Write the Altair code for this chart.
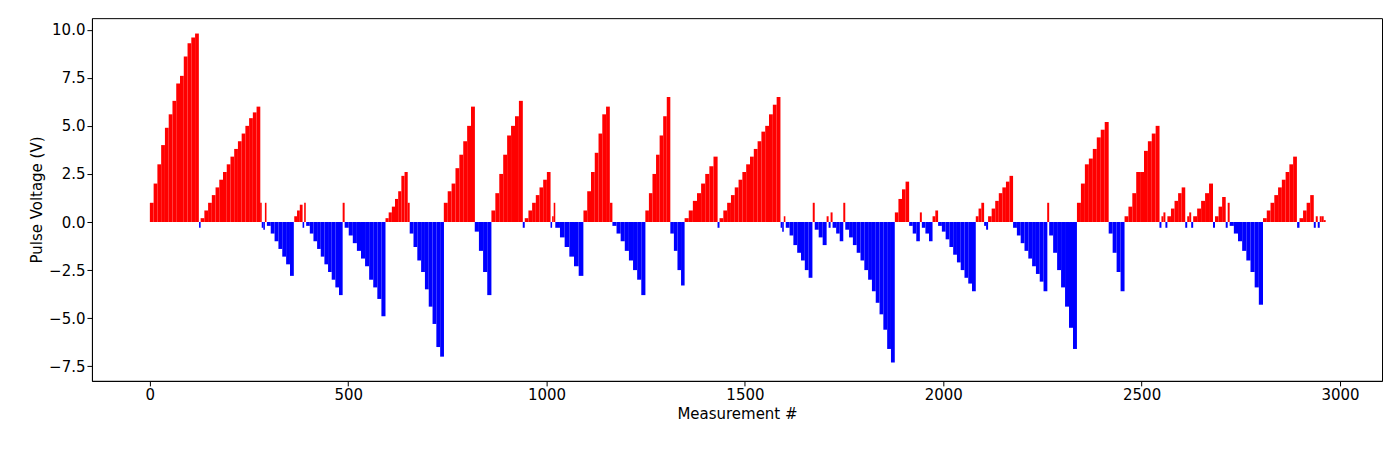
import altair as alt
import pandas as pd

segments = [
    (0, 9.5, [1.0, 2.0, 3.0, 4.0, 4.9, 5.6, 6.3, 7.2, 7.6, 8.6, 9.3, 9.6, 9.8]),
    (124, 4, [-0.3]),
    (128, 9.4, [0.2, 0.6, 1.0, 1.4, 1.8, 2.2, 2.6, 3.0, 3.4, 3.8, 4.2, 4.6, 5.0, 5.4, 5.7, 6.0]),
    (278, 4, [1.0, -0.3, -0.4]),
    (290, 4, [1.0]),
    (295, 9.7, [-0.2, -0.6, -1.0, -1.4, -1.8, -2.2, -2.8]),
    (364, 7, [0.3, 0.6, 0.9]),
    (385, 4, [-0.3]),
    (389, 4, [1.0]),
    (394, 9.2, [-0.2, -0.6, -1.0, -1.4, -1.8, -2.2, -2.6, -3.0, -3.4, -3.8]),
    (486, 5, [1.0]),
    (491, 10.3, [-0.3, -0.7, -1.1, -1.5, -1.9, -2.3, -3.0, -3.4, -4.0, -4.9]),
    (594, 8, [0.2, 0.5, 0.8, 1.2, 1.6, 2.4, 2.6]),
    (650, 5, [1.0]),
    (655, 9.6, [-0.6, -1.3, -2.0, -2.6, -3.5, -4.4, -5.3, -6.5, -7.0]),
    (741, 9.8, [1.0, 1.6, 2.0, 2.8, 3.5, 4.2, 5.0, 6.0]),
    (819, 10.5, [-0.5, -1.5, -2.6, -3.8]),
    (861, 9.9, [0.6, 1.5, 2.5, 3.5, 4.5, 5.0, 5.5, 6.3]),
    (940, 5, [-0.3]),
    (945, 9.3, [0.2, 0.6, 1.0, 1.4, 1.8, 2.2, 2.6]),
    (1010, 4, [-0.3, 0.3, 1.0]),
    (1022, 11.8, [-0.3, -0.8, -1.3, -1.8, -2.3, -2.8]),
    (1093, 9.5, [0.6, 1.6, 2.6, 3.6, 4.6, 5.6, 6.0]),
    (1160, 6, [1.0]),
    (1166, 10.4, [-0.2, -0.6, -1.0, -1.5, -2.0, -2.5, -3.0, -3.8]),
    (1249, 9, [0.6, 1.5, 2.5, 3.5, 4.5, 5.5, 6.5]),
    (1312, 9, [-0.6, -1.5, -2.5, -3.3]),
    (1348, 10.4, [0.2, 0.6, 1.1, 1.5, 2.0, 2.5, 2.9, 3.4]),
    (1431, 5, [-0.3]),
    (1436, 9.6, [0.2, 0.6, 1.0, 1.4, 1.8, 2.2, 2.6, 3.0, 3.4, 3.8, 4.2, 4.7, 5.0, 5.6, 6.1, 6.5]),
    (1590, 4, [-0.3, -0.5, 0.3]),
    (1603, 9.6, [-0.3, -0.7, -1.2, -1.6, -2.0, -2.5, -2.9]),
    (1671, 5, [1.0]),
    (1676, 10, [-0.4, -0.8, -1.2]),
    (1706, 5, [0.3, -0.3, 0.5]),
    (1721, 9, [-0.3, -0.6, -1.0]),
    (1748, 5, [1.0]),
    (1753, 9.6, [-0.4, -0.8, -1.2, -1.6, -2.0, -2.5, -3.0, -3.6, -4.2, -4.8, -5.6, -6.6, -7.3]),
    (1878, 9, [0.5, 1.2, 1.7, 2.1]),
    (1914, 9, [-0.2, -0.6, -1.0]),
    (1941, 5, [0.5]),
    (1946, 9, [-0.3, -0.6, -1.0]),
    (1973, 7, [0.3, 0.6]),
    (1987, 9.5, [-0.2, -0.5, -0.9, -1.3, -1.7, -2.1, -2.5, -2.9, -3.2, -3.6]),
    (2082, 7, [0.3, 0.7, 1.0]),
    (2103, 5, [-0.2, -0.4]),
    (2113, 9, [0.3, 0.7, 1.1, 1.5, 1.8, 2.1, 2.4]),
    (2176, 9.6, [-0.3, -0.7, -1.1, -1.5, -1.9, -2.3, -2.7, -3.1, -3.6]),
    (2262, 5, [1.0]),
    (2267, 10, [-0.7, -1.6, -2.5, -3.4, -4.4, -5.5, -6.6]),
    (2337, 10, [1.0, 2.0, 3.0, 3.3, 3.8, 4.4, 4.8, 5.2]),
    (2417, 10, [-0.6, -1.6, -2.6, -3.6]),
    (2457, 9.8, [0.3, 0.8, 1.5, 2.6, 2.6, 3.7, 4.2, 4.6, 5.0]),
    (2545, 5, [-0.3, 0.3, 0.5, -0.3]),
    (2565, 9, [0.3, 0.7, 1.1, 1.5, 1.8]),
    (2610, 5, [-0.3, 0.3, 0.5, -0.3]),
    (2630, 10, [0.3, 0.7, 1.1, 1.5, 2.0]),
    (2680, 5, [-0.3]),
    (2685, 9, [0.3, 0.8, 1.3]),
    (2712, 5, [-0.3, 1.0]),
    (2722, 10.5, [-0.2, -0.6, -1.0, -1.5, -2.0, -2.6, -3.4, -4.3]),
    (2806, 9.5, [0.2, 0.6, 1.0, 1.4, 1.8, 2.2, 2.6, 3.0, 3.4]),
    (2892, 6, [-0.3]),
    (2898, 9, [0.2, 0.6, 1.0, 1.4]),
    (2934, 5, [-0.3, 0.3, -0.3, 0.3, 0.3, 0.1]),
]

rows = []
for start, step, vals in segments:
    for i, v in enumerate(vals):
        rows.append({"x": start + i * step, "x2": start + (i + 1) * step, "v": v})
df = pd.DataFrame(rows)

chart = alt.Chart(df).mark_rect().encode(
    x=alt.X("x:Q", scale=alt.Scale(domain=[-146, 3106], nice=False, zero=False),
            axis=alt.Axis(title="Measurement #", values=[0, 500, 1000, 1500, 2000, 2500, 3000],
                          grid=False, format="d")),
    x2="x2:Q",
    y=alt.Y("v:Q", scale=alt.Scale(domain=[-8.26, 10.6], nice=False),
            axis=alt.Axis(title="Pulse Voltage (V)", values=[-7.5, -5, -2.5, 0, 2.5, 5, 7.5, 10],
                          grid=False, format=".1f")),
    y2=alt.datum(0),
    color=alt.condition("datum.v >= 0", alt.value("#ff0000"), alt.value("#0000ff")),
).properties(
    width=1291, height=363,
    autosize=alt.AutoSizeParams(type="none"),
    padding={"left": 84, "top": 10, "right": 10, "bottom": 60},
).configure_view(stroke="black", strokeWidth=1).configure_axis(
    labelFont="DejaVu Sans", titleFont="DejaVu Sans", labelFontSize=15, titleFontSize=15,
    titleFontWeight="normal", labelColor="black", titleColor="black",
    domainColor="black", tickColor="black", tickSize=5,
)

chart.save("out.html", embed_options={"renderer": "svg", "actions": False})
